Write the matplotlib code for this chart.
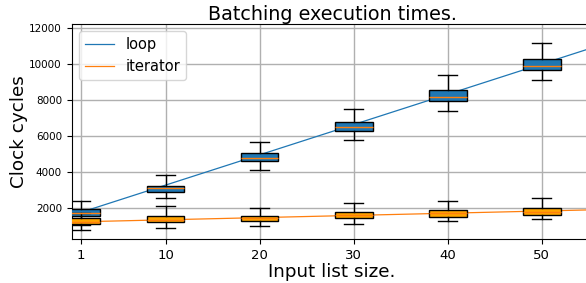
import matplotlib
matplotlib.use("Agg")
import matplotlib.pyplot as plt

# input list sizes
sizes = [1, 10, 20, 30, 40, 50]

# box statistics (clock cycles)
loop_med = [1700, 3090, 4800, 6480, 8150, 9880]
loop_q1 = [1540, 2906, 4610, 6300, 7940, 9680]
loop_q3 = [1940, 3240, 5040, 6800, 8540, 10260]
loop_lo = [1040, 2530, 4130, 5760, 7390, 9090]
loop_hi = [2400, 3820, 5690, 7500, 9410, 11150]

iter_med = [1200, 1350, 1420, 1600, 1700, 1800]
iter_q1 = [1094, 1200, 1280, 1430, 1520, 1610]
iter_q3 = [1428, 1555, 1570, 1780, 1870, 2000]
iter_lo = [780, 870, 1020, 1130, 1280, 1370]
iter_hi = [1700, 2100, 2020, 2260, 2370, 2555]

# fitted trend lines (end points)
fit_x = [1, 60]
loop_fit = [1760, 11675]
iter_fit = [1235, 1955]


def make_stats(med, q1, q3, lo, hi):
    return [dict(med=m, q1=a, q3=b, whislo=l, whishi=h, fliers=[])
            for m, a, b, l, h in zip(med, q1, q3, lo, hi)]


fig = plt.figure(figsize=(5.86, 2.83), dpi=100)
# the right part of the axes falls outside the saved picture
ax = fig.add_axes([0.1222, 0.1555, 0.889, 0.760])

ax.plot(fit_x, loop_fit, color="C0", lw=0.9, label="loop", zorder=2)
ax.plot(fit_x, iter_fit, color="C1", lw=0.9, label="iterator", zorder=2)

for stats, fc in [(make_stats(loop_med, loop_q1, loop_q3, loop_lo, loop_hi), "C0"),
                  (make_stats(iter_med, iter_q1, iter_q3, iter_lo, iter_hi), "orange")]:
    ax.bxp(stats, positions=sizes, widths=4, patch_artist=True, manage_ticks=False,
           boxprops=dict(facecolor=fc, edgecolor="black", linewidth=1),
           medianprops=dict(color="C1", linewidth=1),
           whiskerprops=dict(color="black", linewidth=1),
           capprops=dict(color="black", linewidth=1),
           zorder=3)

ax.set_xlim(0, 55.4)
ax.set_ylim(280, 12220)
ax.set_xticks(sizes)
ax.set_xticklabels([str(s) for s in sizes], fontsize=9.5)
ax.set_yticks([2000, 4000, 6000, 8000, 10000, 12000])
ax.tick_params(axis="y", labelsize=7.5)
ax.grid(True, color="#b0b0b0", lw=1)
ax.set_axisbelow(True)

ax.set_title("Batching execution times.", fontsize=13.8, pad=2)
ax.set_xlabel("Input list size.", fontsize=13.2, labelpad=1)
ax.set_ylabel("Clock cycles", fontsize=13.2, labelpad=1)
ax.legend(loc="upper left", fontsize=10.5)

fig.savefig("out.png", dpi=100)
